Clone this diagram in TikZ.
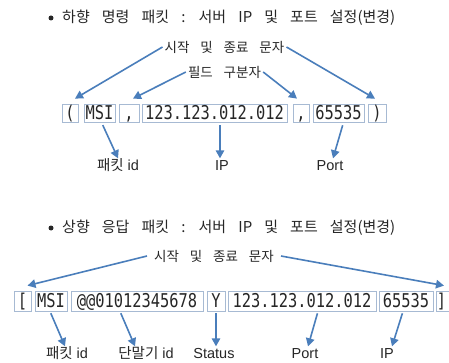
\documentclass[tikz,border=0pt]{standalone}
\usepackage{fontspec}
\setmainfont{Liberation Sans}
\newfontfamily\kr[WordSpace=3]{Noto Sans CJK KR}
\newfontfamily\krt[WordSpace=3.6]{Noto Sans CJK KR}
\newfontfamily\mono[FakeStretch=0.81]{DejaVu Sans Mono}
\usetikzlibrary{arrows.meta}
\definecolor{arrowblue}{HTML}{4A7EBB}
\definecolor{boxline}{HTML}{A7BAD3}
\definecolor{txt}{HTML}{262626}
\tikzset{
  fld/.style={draw=boxline, line width=0.8pt, inner sep=0pt, text=txt,
    text height=14pt, text depth=0.5pt,
    font=\mono\fontsize{19}{19}\selectfont},
  rowa/.style={fld, minimum height=18pt},
  rowb/.style={fld, minimum height=20pt},
  ttl/.style={inner sep=0pt, text=txt, font=\krt\fontsize{15}{17}\selectfont},
  klab/.style={inner sep=2pt, text=txt, font=\kr\fontsize{13.5}{15}\selectfont},
  lab/.style={inner sep=2pt, text=txt, text height=10pt, text depth=3pt,
    font=\fontsize{14.5}{16}\selectfont},
  bul/.style={circle, fill=txt, inner sep=0pt, minimum size=5pt},
  arr/.style={draw=arrowblue, line width=1.6pt, -{Triangle[length=8pt,width=8.5pt]}},
}
\begin{document}
\begin{tikzpicture}[x=1pt,y=-1pt]
\useasboundingbox (0,0) rectangle (449,363);
% ---------- first packet ----------
\node[bul] (bul1) at (51,18) {};
\node[ttl, anchor=west] (t1) at (62,18) {하향 명령 패킷 : 서버 IP 및 포트 설정(변경)};
\node[klab] (se1) at (224.5,47) {시작 및 종료 문자};
\node[klab] (fs1) at (224.5,72) {필드 구분자};
\node[rowa, minimum width=16pt] (b1) at (70,113) {(};
\node[rowa, minimum width=31pt] (b2) at (99.5,113) {MSI};
\node[rowa, minimum width=20pt] (b3) at (129,113) {,};
\node[rowa, minimum width=145pt] (b4) at (214.5,113) {123.123.012.012};
\node[rowa, minimum width=16pt] (b5) at (301,113) {,};
\node[rowa, minimum width=51pt] (b6) at (338.5,113) {65535};
\node[rowa, minimum width=18pt] (b7) at (377,113) {)};
\node[lab] (la1) at (118,167) {{\kr 패킷} id};
\node[lab] (la2) at (222,167) {IP};
\node[lab] (la3) at (330,167) {Port};
\draw[arr] (se1.west) -- ([xshift=5pt,yshift=5pt]b1.north);
\draw[arr] (se1.east) -- ([xshift=-2pt,yshift=5pt]b7.north);
\draw[arr] (fs1.west) -- ([xshift=4pt,yshift=5pt]b3.north);
\draw[arr] (fs1.east) -- ([xshift=-4pt,yshift=5pt]b5.north);
\draw[arr, shorten <=3pt] ([xshift=2pt]b2.south) -- (la1.north);
\draw[arr, shorten <=3pt] ([xshift=-2pt]la2.north |- b4.south) -- ([xshift=-2pt]la2.north);
\draw[arr, shorten <=3pt] ([xshift=5pt]b6.south) -- ([xshift=3pt]la3.north);
% ---------- second packet ----------
\node[bul] (bul2) at (51,228) {};
\node[ttl, anchor=west] (t2) at (62,228) {상향 응답 패킷 : 서버 IP 및 포트 설정(변경)};
\node[klab, inner xsep=7pt] (se2) at (214,256) {시작 및 종료 문자};
\node[rowb, minimum width=17pt] (c1) at (22.5,301) {[};
\node[rowb, minimum width=32pt] (c2) at (51,301) {MSI};
\node[rowb, minimum width=132pt] (c3) at (137,301) {@@01012345678};
\node[rowb, minimum width=18pt] (c4) at (216,301) {Y};
\node[rowb, minimum width=148pt] (c5) at (302,301) {123.123.012.012};
\node[rowb, minimum width=54pt] (c6) at (406,301) {65535};
\node[rowb, minimum width=18pt] (c7) at (446,301) {]\hspace*{9pt}};
\node[lab] (lb1) at (67,355) {{\kr 패킷} id};
\node[lab] (lb2) at (146,355) {{\kr 단말기} id};
\node[lab] (lb3) at (214,355) {Status};
\node[lab] (lb4) at (305,355) {Port};
\node[lab] (lb5) at (387,355) {IP};
\draw[arr] (se2.west) -- ([xshift=5pt,yshift=5pt]c1.north);
\draw[arr] (se2.east) -- ([xshift=-2pt,yshift=5pt]c7.north);
\draw[arr, shorten <=2pt] ([xshift=-1pt]c2.south) -- ([xshift=-2pt]lb1.north);
\draw[arr, shorten <=2pt] ([xshift=-17pt]c3.south) -- ([xshift=-11pt]lb2.north);
\draw[arr, shorten <=2pt] (c4.south) -- (c4.south |- lb3.north);
\draw[arr, shorten <=2pt] ([xshift=16pt]c5.south) -- ([xshift=3pt]lb4.north);
\draw[arr, shorten <=2pt] ([xshift=-3pt]c6.south) -- ([xshift=5pt]lb5.north);
\end{tikzpicture}
\end{document}
